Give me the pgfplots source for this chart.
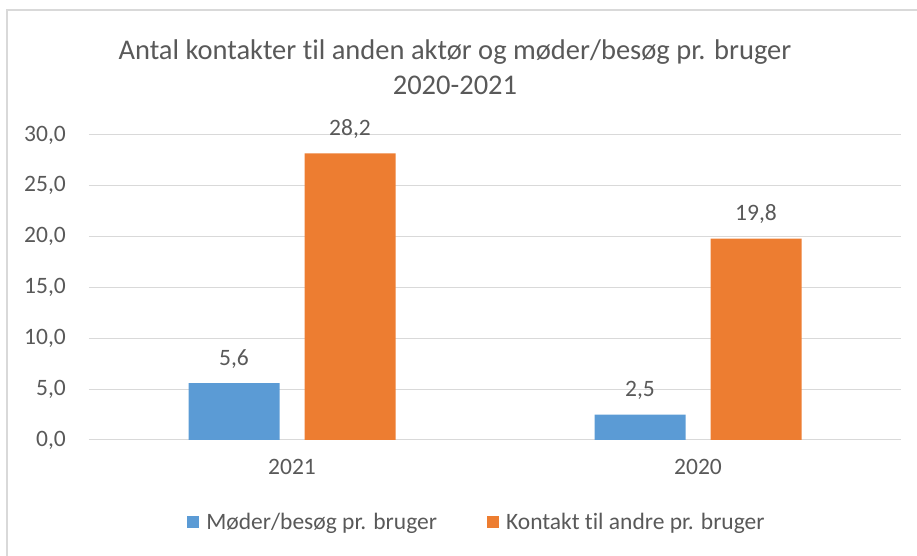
\documentclass[border=0pt]{standalone}
\usepackage{pgfplots}
\pgfplotsset{compat=1.18}
\usepackage{fontspec}
\setmainfont{Carlito}[Ligatures=NoCommon]
\definecolor{cblue}{HTML}{5B9BD5}
\definecolor{corange}{HTML}{ED7D31}
\definecolor{tgray}{HTML}{595959}
\definecolor{ggray}{HTML}{D9D9D9}
\begin{document}
\begin{tikzpicture}[x=1pt,y=1pt]
\useasboundingbox (0,0) rectangle (917,556);
\draw[ggray, line width=1.5pt] (7,0) -- (7,546) -- (917,546);
\begin{axis}[
  at={(89pt,116pt)}, anchor=south west,
  scale only axis, width=812pt, height=305pt,
  xmin=-0.5, xmax=1.5, ymin=0, ymax=30,
  ybar=25pt, bar width=91pt,
  xtick={0,1}, xticklabels={2021,2020},
  ytick={0,5,...,30},
  major tick length=0pt,
  axis line style={draw=none},
  ymajorgrids, grid style={ggray, line width=1pt},
  /pgf/number format/.cd, use comma, fixed, fixed zerofill, precision=1, assume math mode=true,
  /pgfplots/.cd,
  tick label style={text=tgray, font=\fontsize{23.5}{27}\selectfont, inner sep=0pt},
  yticklabel style={anchor=east, xshift=-23pt},
  xticklabel style={anchor=north, yshift=-19pt},
  nodes near coords,
  every node near coord/.append style={anchor=base, yshift=18pt, inner sep=0pt, text=tgray, font=\fontsize{23.5}{27}\selectfont},
  title={Antal kontakter til anden aktør og møder/besøg pr. bruger\\2020-2021},
  title style={at={(axis description cs:0.4507,1.204)}, anchor=center, align=center, text=tgray, font=\fontsize{28.5}{35}\selectfont, inner sep=0pt},
  legend columns=2,
  legend style={at={(axis description cs:0.4766,-0.269)}, anchor=center, draw=none, fill=none, inner sep=0pt, column sep=7pt,
    nodes={inner sep=0pt, text=tgray, font=\fontsize{23.5}{27}\selectfont},
    /tikz/every even column/.append style={column sep=50pt}},
  legend image code/.code={\fill[#1, draw=none] (0pt,-6pt) rectangle (12pt,6pt);},
]
\addplot[fill=cblue, draw=none] coordinates {(0,5.6) (1,2.5)};
\addplot[fill=corange, draw=none] coordinates {(0,28.2) (1,19.8)};
\legend{Møder/besøg pr. bruger, Kontakt til andre pr. bruger}
\end{axis}
\end{tikzpicture}
\end{document}
